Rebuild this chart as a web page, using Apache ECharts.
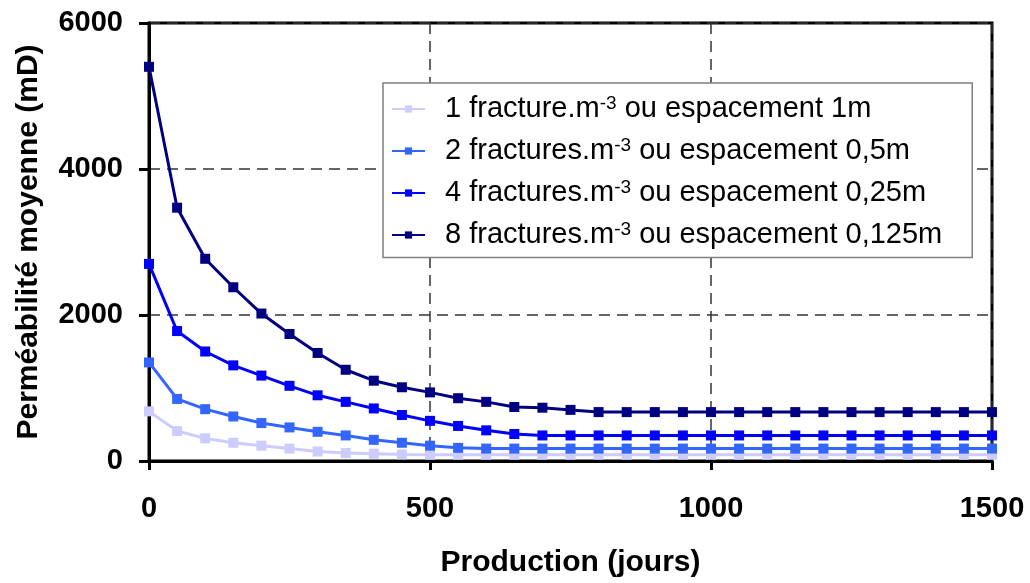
<!DOCTYPE html>
<html>
<head>
<meta charset="utf-8">
<script src="https://cdn.jsdelivr.net/npm/echarts@6/dist/echarts.min.js"></script>
<style>
html,body{margin:0;padding:0;background:#fff;}
#chart{width:1030px;height:583px;}
</style>
</head>
<body>
<div id="chart"></div>
<script>
// Production days (every 50 days)
const days = [0,50,100,150,200,250,300,350,400,450,500,550,600,650,700,750,800,850,900,950,1000,1050,1100,1150,1200,1250,1300,1350,1400,1450,1500];

const s1 = [680,410,310,250,210,170,130,110,100,90,85,85,85,85,85,85,85,85,85,85,85,85,85,85,85,85,85,85,85,85,85];
const s2 = [1350,850,710,610,520,460,400,350,290,250,210,180,170,170,170,170,170,170,170,170,170,170,170,170,170,170,170,170,170,170,170];
const s4 = [2700,1780,1500,1310,1170,1030,900,810,720,630,550,480,420,370,350,350,350,350,350,350,350,350,350,350,350,350,350,350,350,350,350];
const s8 = [5400,3470,2770,2380,2020,1740,1480,1250,1100,1010,940,860,810,740,730,700,670,670,670,670,670,670,670,670,670,670,670,670,670,670,670];

const seriesNames = [
  "1 fracture.m-3 ou espacement 1m",
  "2 fractures.m-3 ou espacement 0,5m",
  "4 fractures.m-3 ou espacement 0,25m",
  "8 fractures.m-3 ou espacement 0,125m"
];
const namePre = ["1 fracture.m", "2 fractures.m", "4 fractures.m", "8 fractures.m"];
const nameSup = ["-3", "-3", "-3", "-3"];
const namePost = [" ou espacement 1m", " ou espacement 0,5m", " ou espacement 0,25m", " ou espacement 0,125m"];
const colors = ["#CCCCFF", "#3366FF", "#0000FF", "#000080"];

const xTicks = {min: 0, max: 1500, interval: 500};
const yTicks = {min: 0, max: 6000, interval: 2000};

const allValues = [s1, s2, s4, s8];

const chart = echarts.init(document.getElementById('chart'), null, {renderer: 'canvas'});
const FONT = '"Liberation Sans", Arial, sans-serif';

const series = allValues.map((vals, i) => ({
  name: seriesNames[i],
  type: 'line',
  data: days.map((d, k) => [d, vals[k]]),
  symbol: 'rect',
  symbolSize: 10,
  lineStyle: {color: colors[i], width: 3},
  itemStyle: {color: colors[i]},
  z: 3 + i,
  animation: false
}));

chart.setOption({
  animation: false,
  backgroundColor: '#fff',
  grid: {left: 149, right: 38, top: 23, bottom: 116.5, show: true, borderColor: '#000', borderWidth: 3, backgroundColor: 'transparent'},
  legend: {
    orient: 'vertical',
    left: 383, top: 83,
    padding: [11, 30, 8, 8],
    itemGap: 12.5,
    itemWidth: 33, itemHeight: 9,
    backgroundColor: '#fff',
    borderColor: '#808080', borderWidth: 1.5,
    data: seriesNames,
    formatter: function (name) {
      const i = seriesNames.indexOf(name);
      return '{g|}{n|' + namePre[i] + '}{s|' + nameSup[i] + '}{n|' + namePost[i] + '}';
    },
    textStyle: {
      fontFamily: FONT, fontSize: 29, color: '#000',
      rich: {
        g: {width: 15},
        n: {fontFamily: FONT, fontSize: 29, color: '#000', lineHeight: 30},
        s: {fontFamily: FONT, fontSize: 19, color: '#000', verticalAlign: 'top', lineHeight: 30}
      }
    }
  },
  xAxis: {
    type: 'value',
    min: xTicks.min, max: xTicks.max, interval: xTicks.interval,
    name: 'Production (jours)',
    nameLocation: 'middle', nameGap: 87,
    nameTextStyle: {fontFamily: FONT, fontSize: 30, fontWeight: 'bold', color: '#000'},
    axisLine: {show: true, onZero: false, lineStyle: {color: '#000', width: 3}},
    axisTick: {show: true, length: 9, inside: false, lineStyle: {color: '#000', width: 3}},
    axisLabel: {margin: 33, fontFamily: FONT, fontSize: 29, fontWeight: 'bold', color: '#000', formatter: v => String(v)},
    splitLine: {show: true, lineStyle: {color: '#333', width: 1.5, type: [11, 7]}}
  },
  yAxis: {
    type: 'value',
    min: yTicks.min, max: yTicks.max, interval: yTicks.interval,
    name: 'Perméabilité moyenne (mD)',
    nameLocation: 'middle', nameGap: 105, nameRotate: 90,
    nameTextStyle: {fontFamily: FONT, fontSize: 30, fontWeight: 'bold', color: '#000'},
    axisLine: {show: true, lineStyle: {color: '#000', width: 3}},
    axisTick: {show: true, length: 10, inside: false, lineStyle: {color: '#000', width: 3}},
    axisLabel: {margin: 26, fontFamily: FONT, fontSize: 29, fontWeight: 'bold', color: '#000', formatter: v => String(v)},
    splitLine: {show: true, lineStyle: {color: '#333', width: 1.5, type: [11, 7]}}
  },
  series: series
});
</script>
</body>
</html>
